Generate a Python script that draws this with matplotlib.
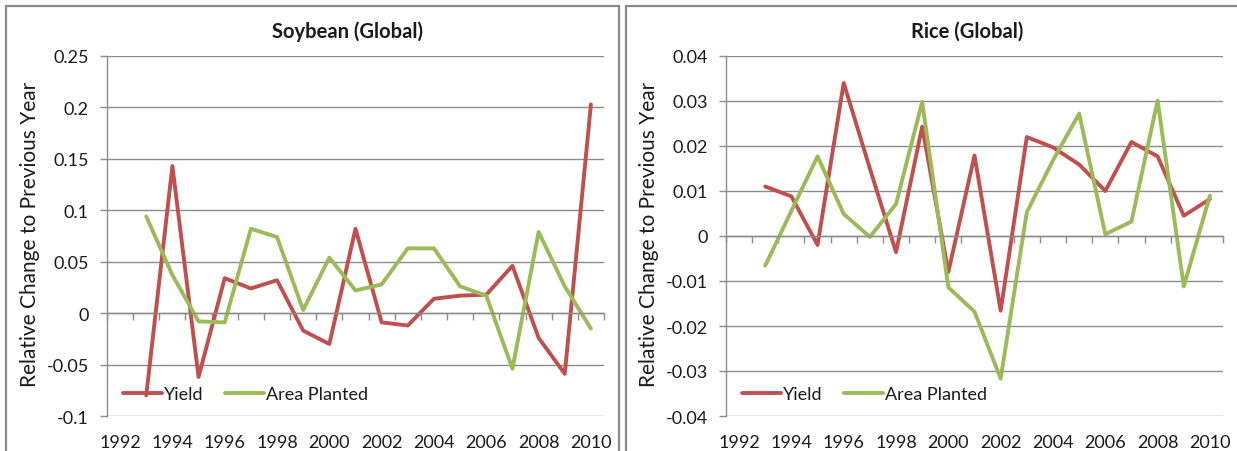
import numpy as np
import matplotlib.pyplot as plt
from matplotlib.patches import Rectangle

# ---- data ----
years = list(range(1993, 2011))
label_years = list(range(1992, 2011, 2))

soy_yield = [-0.080, 0.143, -0.062, 0.034, 0.024, 0.032, -0.017, -0.030, 0.082,
             -0.009, -0.012, 0.014, 0.017, 0.018, 0.046, -0.024, -0.059, 0.203]
soy_area = [0.094, 0.037, -0.008, -0.009, 0.082, 0.074, 0.003, 0.054, 0.022,
            0.028, 0.063, 0.063, 0.026, 0.017, -0.054, 0.079, 0.026, -0.015]

rice_yield = [0.0110, 0.0088, -0.0020, 0.0340, 0.0150, -0.0036, 0.0243, -0.0080, 0.0179,
              -0.0166, 0.0220, 0.0197, 0.0159, 0.0100, 0.0209, 0.0177, 0.0045, 0.0082]
rice_area = [-0.0066, 0.0056, 0.0177, 0.0049, -0.0002, 0.0071, 0.0298, -0.0114, -0.0168,
             -0.0317, 0.0053, 0.0168, 0.0272, 0.0004, 0.0032, 0.0301, -0.0112, 0.0090]

soy_ticks = [-0.1, -0.05, 0, 0.05, 0.1, 0.15, 0.2, 0.25]
soy_ticklabels = ["-0.1", "-0.05", "0", "0.05", "0.1", "0.15", "0.2", "0.25"]
rice_ticks = [-0.04, -0.03, -0.02, -0.01, 0, 0.01, 0.02, 0.03, 0.04]
rice_ticklabels = ["-0.04", "-0.03", "-0.02", "-0.01", "0", "0.01", "0.02", "0.03", "0.04"]

RED = "#C0504D"
GREEN = "#9BBB59"
GRID = "#8c8c8c"
TEXT = "#1a1a1a"

plt.rcParams["font.family"] = ["Lato", "DejaVu Sans"]

W, H = 1237, 452
fig = plt.figure(figsize=(W / 100, H / 100), dpi=100)

# chart frames (Excel chart area borders)
fig.add_artist(Rectangle((6 / W, -0.1), 613 / W, 1.1 - 7 / H, transform=fig.transFigure,
                         fill=False, edgecolor="#8a8a8a", linewidth=1.6))
fig.add_artist(Rectangle((626 / W, -0.1), 0.5, 1.1 - 7 / H, transform=fig.transFigure,
                         fill=False, edgecolor="#8a8a8a", linewidth=1.6))


def draw_panel(left_px, title, y1, y2, ticks, ticklabels):
    ax = fig.add_axes([left_px / W, 1 - 417 / H, 497 / W, 360 / H])
    ax.plot(years, y1, color=RED, lw=2.8, solid_joinstyle="round", solid_capstyle="round",
            label="Yield")
    ax.plot(years, y2, color=GREEN, lw=2.8, solid_joinstyle="round", solid_capstyle="round",
            label="Area Planted")

    ax.set_xlim(1991.5, 2010.5)
    ax.set_ylim(ticks[0], ticks[-1])
    ax.set_yticks(ticks)
    ax.set_yticklabels(ticklabels)
    ax.yaxis.grid(True, color=GRID, lw=1.0)
    ax.set_axisbelow(True)

    for s in ["top", "right"]:
        ax.spines[s].set_visible(False)
    ax.spines["left"].set_color(GRID)
    ax.spines["left"].set_linewidth(1.0)
    ax.tick_params(axis="y", direction="out", length=5, width=1.0, color=GRID,
                   pad=8, labelsize=13, labelcolor=TEXT)

    # category boundaries ticked on the zero line
    ax.spines["bottom"].set_position(("data", 0))
    ax.spines["bottom"].set_color(GRID)
    ax.spines["bottom"].set_linewidth(1.0)
    ax.set_xticks(np.arange(1991.5, 2011, 1.0))
    ax.tick_params(axis="x", direction="out", length=5, width=1.0, color=GRID,
                   labelbottom=False)

    # year labels at the bottom of the plot
    sec = ax.secondary_xaxis(0)
    sec.set_xticks(label_years)
    sec.set_xticklabels([str(y) for y in label_years])
    sec.tick_params(length=0, pad=13, labelsize=13, labelcolor=TEXT)
    sec.spines["bottom"].set_visible(False)

    ax.set_ylabel("Relative Change to Previous Year", fontsize=15, color=TEXT)
    ax.yaxis.set_label_coords(-0.135, 0.508)

    fig.text((left_px + 241) / W, 1 - 32 / H, title, ha="center", va="center",
             fontsize=14.5, fontweight="bold", color=TEXT)

    ax.legend(loc="center left", bbox_to_anchor=(0.032, 0.061), ncol=2, frameon=False,
              borderpad=0, borderaxespad=0, handlelength=2.17, handletextpad=0.12,
              columnspacing=1.17, fontsize=13, labelcolor=TEXT)
    return ax


draw_panel(107, "Soybean (Global)", soy_yield, soy_area, soy_ticks, soy_ticklabels)
draw_panel(726, "Rice (Global)", rice_yield, rice_area, rice_ticks, rice_ticklabels)

fig.savefig("out.png", dpi=100)
